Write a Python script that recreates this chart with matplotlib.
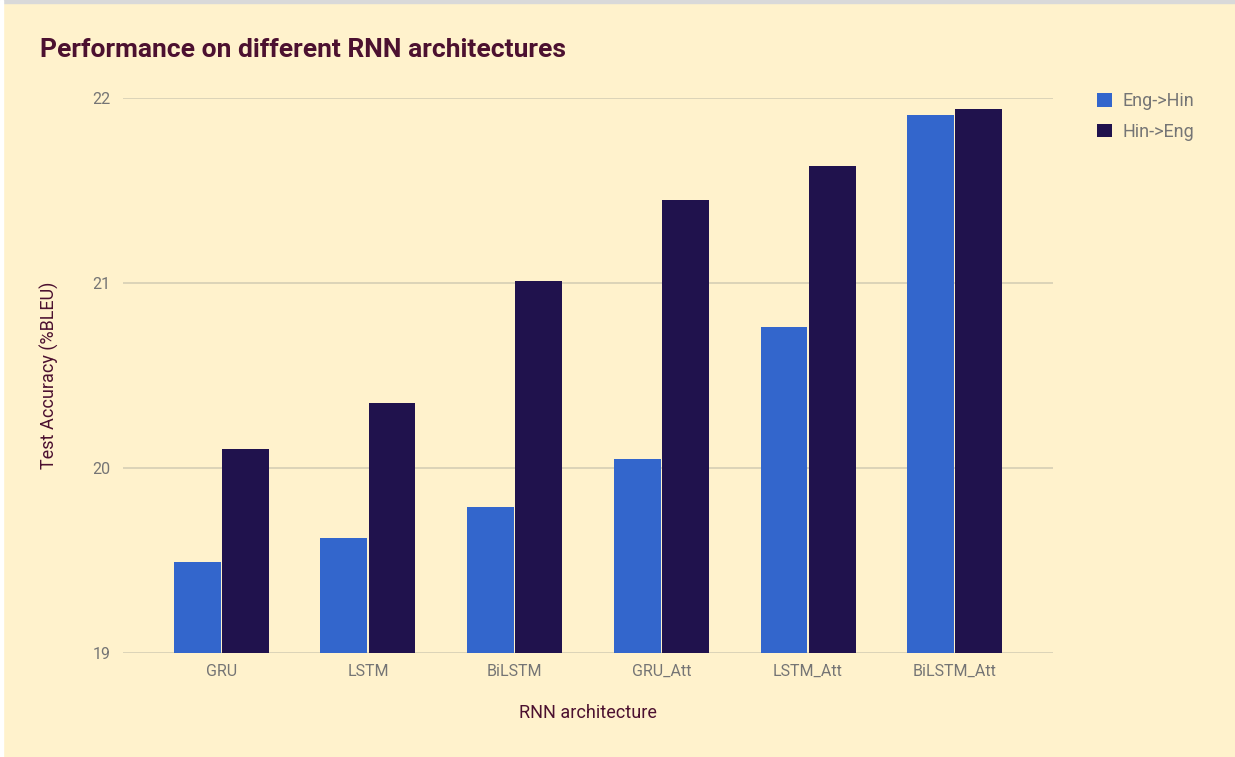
import numpy as np
import matplotlib.pyplot as plt
from matplotlib.patches import Rectangle

plt.rcParams['font.family'] = ['Roboto', 'DejaVu Sans']

architectures = ["GRU", "LSTM", "BiLSTM", "GRU_Att", "LSTM_Att", "BiLSTM_Att"]
eng_hin = [19.49, 19.62, 19.79, 20.05, 20.76, 21.91]
hin_eng = [20.10, 20.35, 21.01, 21.45, 21.63, 21.94]
yticks = [19, 20, 21, 22]

bg = "#fff2cc"
text_dark = "#4c1130"
tick_gray = "#757575"

fig = plt.figure(figsize=(12.35, 7.57), dpi=100, facecolor=bg)
# sheet border strips
fig.patches.append(Rectangle((0, 1 - 3 / 757), 1, 3 / 757, transform=fig.transFigure,
                             color="#d9d9d9", zorder=0))
fig.patches.append(Rectangle((0, 0), 3 / 1235, 1, transform=fig.transFigure,
                             color="white", zorder=0))

ax = fig.add_axes([123 / 1235, 1 - 653 / 757, 930 / 1235, 555 / 757])
ax.set_facecolor(bg)

x = np.arange(len(architectures))
w = 0.32
ax.bar(x - w / 2 - 0.004, eng_hin, w, bottom=0, color="#3366cc", label="Eng->Hin", zorder=3)
ax.bar(x + w / 2 + 0.004, hin_eng, w, bottom=0, color="#20124d", label="Hin->Eng", zorder=3)

ax.set_ylim(19, 22)
ax.set_xlim(-0.67, 5.67)
ax.set_yticks(yticks)
ax.set_yticklabels([str(t) for t in yticks])
ax.set_xticks(x)
ax.set_xticklabels(architectures)
ax.grid(axis="y", color="#d6cfb4", linewidth=1.2, zorder=0)
for s in ax.spines.values():
    s.set_visible(False)
ax.tick_params(length=0, labelsize=11.5, labelcolor=tick_gray)
ax.tick_params(axis="y", pad=9)
ax.tick_params(axis="x", pad=8)

ax.set_xlabel("RNN architecture", fontsize=13, color=text_dark, labelpad=18)
ax.set_ylabel("Test Accuracy (%BLEU)", fontsize=13, color=text_dark, labelpad=24)

fig.text(40 / 1235, 1 - 50 / 757, "Performance on different RNN architectures",
         fontsize=19, fontweight="bold", color=text_dark, va="center", ha="left")

ax.legend(loc="upper left", bbox_to_anchor=(1.03, 1.04), frameon=False,
          fontsize=13, labelcolor=tick_gray, handlelength=0.8, handleheight=0.8,
          handletextpad=0.6, labelspacing=0.7)

fig.savefig("out.png", dpi=100, facecolor=bg)
